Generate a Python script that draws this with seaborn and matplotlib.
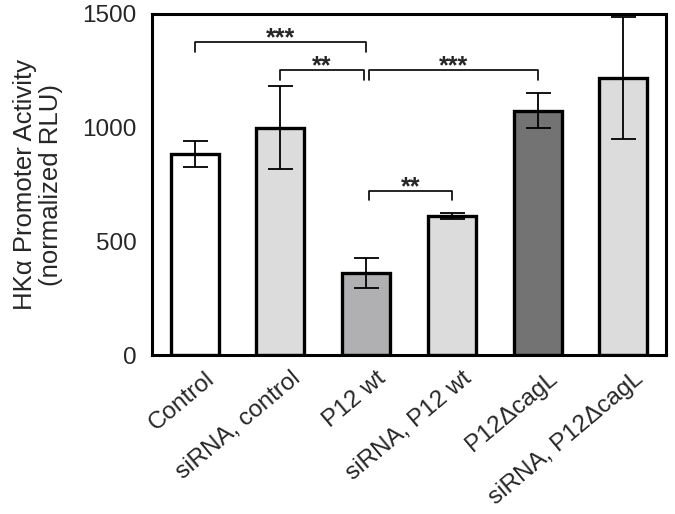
import pandas as pd
import numpy as np
import matplotlib
matplotlib.use('Agg')
import matplotlib.pyplot as plt
import matplotlib.transforms as mtransforms
import seaborn as sns

# data
groups = ['Control', 'siRNA, control', 'P12 wt', 'siRNA, P12 wt',
          'P12\u0394cagL', 'siRNA, P12\u0394cagL']
activity = [884, 999, 362, 611, 1075, 1219]
sem = [57, 182, 66, 13, 78, 267]
bar_colors = ['#ffffff', '#dcdcdc', '#b0b0b3', '#dcdcdc', '#737373', '#dcdcdc']

# significance brackets: (left idx, right idx, height, leg drop, label)
brackets = [
    (0, 2, 1377, 44, '***'),
    (1, 1.97, 1254, 44, '**'),
    (2.03, 4, 1254, 44, '***'),
    (2.03, 3, 721, 40, '**'),
]

sns.set_style('white')
plt.rcParams['font.family'] = ['Liberation Sans', 'DejaVu Sans']

df = pd.DataFrame({'group': groups, 'activity': activity})

fig = plt.figure(figsize=(6.75, 5.14), dpi=100)
ax = fig.add_axes([0.225, 0.309, 0.762, 0.664])

sns.barplot(data=df, x='group', y='activity', hue='group', palette=bar_colors,
            legend=False, width=0.56, edgecolor='black', linewidth=2.4,
            errorbar=None, ax=ax)
ax.errorbar(np.arange(len(groups)), activity, yerr=sem, fmt='none',
            ecolor='black', elinewidth=1.3, capsize=9, capthick=1.3, zorder=5)

for x1, x2, h, drop, lab in brackets:
    ax.plot([x1, x1, x2, x2], [h - drop, h, h, h - drop], color='black', lw=1.2)
    ax.text((x1 + x2) / 2, h + 15, lab, ha='center', va='center',
            fontsize=18, fontweight='bold')

ax.set_xlim(-0.5, 5.5)
ax.set_ylim(0, 1500)
ax.set_yticks([0, 500, 1000, 1500])
ax.tick_params(axis='y', direction='in', length=9, width=2.2, labelsize=17.5, pad=11)
ax.tick_params(axis='x', length=0, labelsize=17.5, pad=9)
for s in ax.spines.values():
    s.set_linewidth(2.2)
    s.set_color('black')

offset = mtransforms.ScaledTranslation(24 / 100, 0, fig.dpi_scale_trans)
ax.set_xticks(range(len(groups)))
ax.set_xticklabels(groups, rotation=40, ha='right')
for lbl in ax.get_xticklabels():
    lbl.set_transform(lbl.get_transform() + offset)

ax.set_xlabel('')
ax.set_ylabel('HK\u03b1 Promoter Activity\n(normalized RLU)', fontsize=18.5,
              labelpad=14, linespacing=1.1)

fig.savefig('out.png', dpi=100)
